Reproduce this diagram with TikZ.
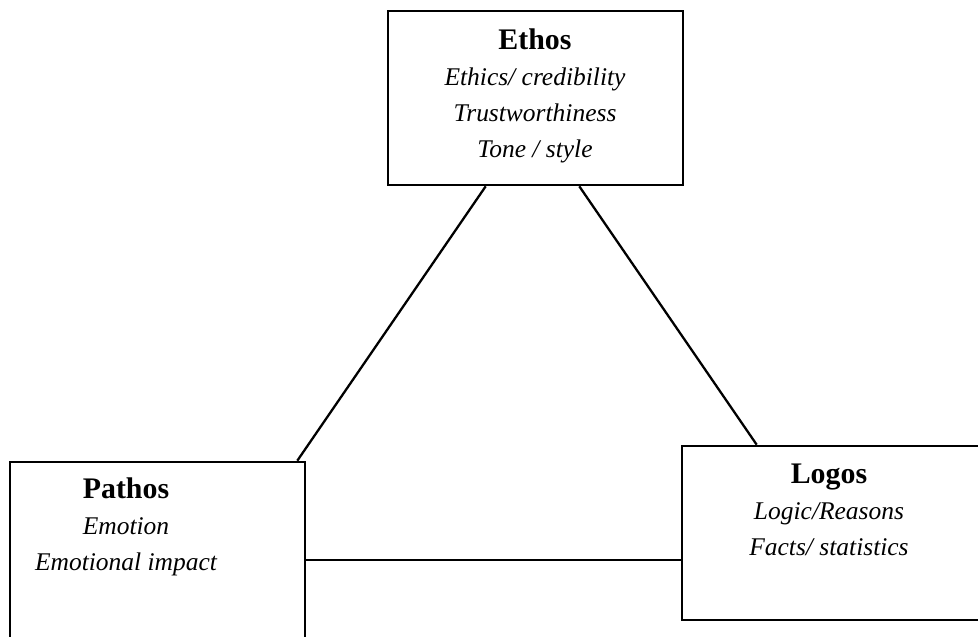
\documentclass[tikz,border=0pt]{standalone}
\usepackage{fontspec}
\setmainfont{Liberation Serif}
\begin{document}
\begin{tikzpicture}[
  box/.style={draw,line width=1.5pt,inner sep=0pt,minimum width=5.9cm,minimum height=3.48cm},
  words/.style={align=center,font=\fontsize{14.5}{20.4}\selectfont\itshape},
  link/.style={line width=1.3pt}
]
\useasboundingbox (0,0) rectangle (19.56,12.72);

% Boxes
\node[box] (ethos) at (10.71,10.76) {};
\node[box,minimum height=3.56cm] (pathos) at (3.15,1.70) {};
\node[box,minimum width=6.4cm] (logos) at (16.84,2.06) {};

% Texts
\node[words] (ethostext) at (10.70,10.80)
  {{\upshape\bfseries\fontsize{17}{20.4}\selectfont Ethos}\\Ethics/ credibility\\Trustworthiness\\Tone / style};
\node[words] (pathostext) at (2.52,2.18)
  {{\upshape\bfseries\fontsize{17}{20.4}\selectfont Pathos}\\Emotion\\Emotional impact};
\node[words] (logostext) at (16.58,2.52)
  {{\upshape\bfseries\fontsize{17}{20.4}\selectfont Logos}\\Logic/Reasons\\Facts/ statistics};

% Connectors
\coordinate (pathosport) at ([yshift=-0.18cm]pathos.east);
\draw[link] ([xshift=1.98cm]ethos.south west) -- ([xshift=-0.18cm]pathos.north east);
\draw[link] ([xshift=-2.10cm]ethos.south east) -- ([xshift=1.52cm]logos.north west);
\draw[link] (pathosport) -- (pathosport -| logos.west);

\end{tikzpicture}
\end{document}
